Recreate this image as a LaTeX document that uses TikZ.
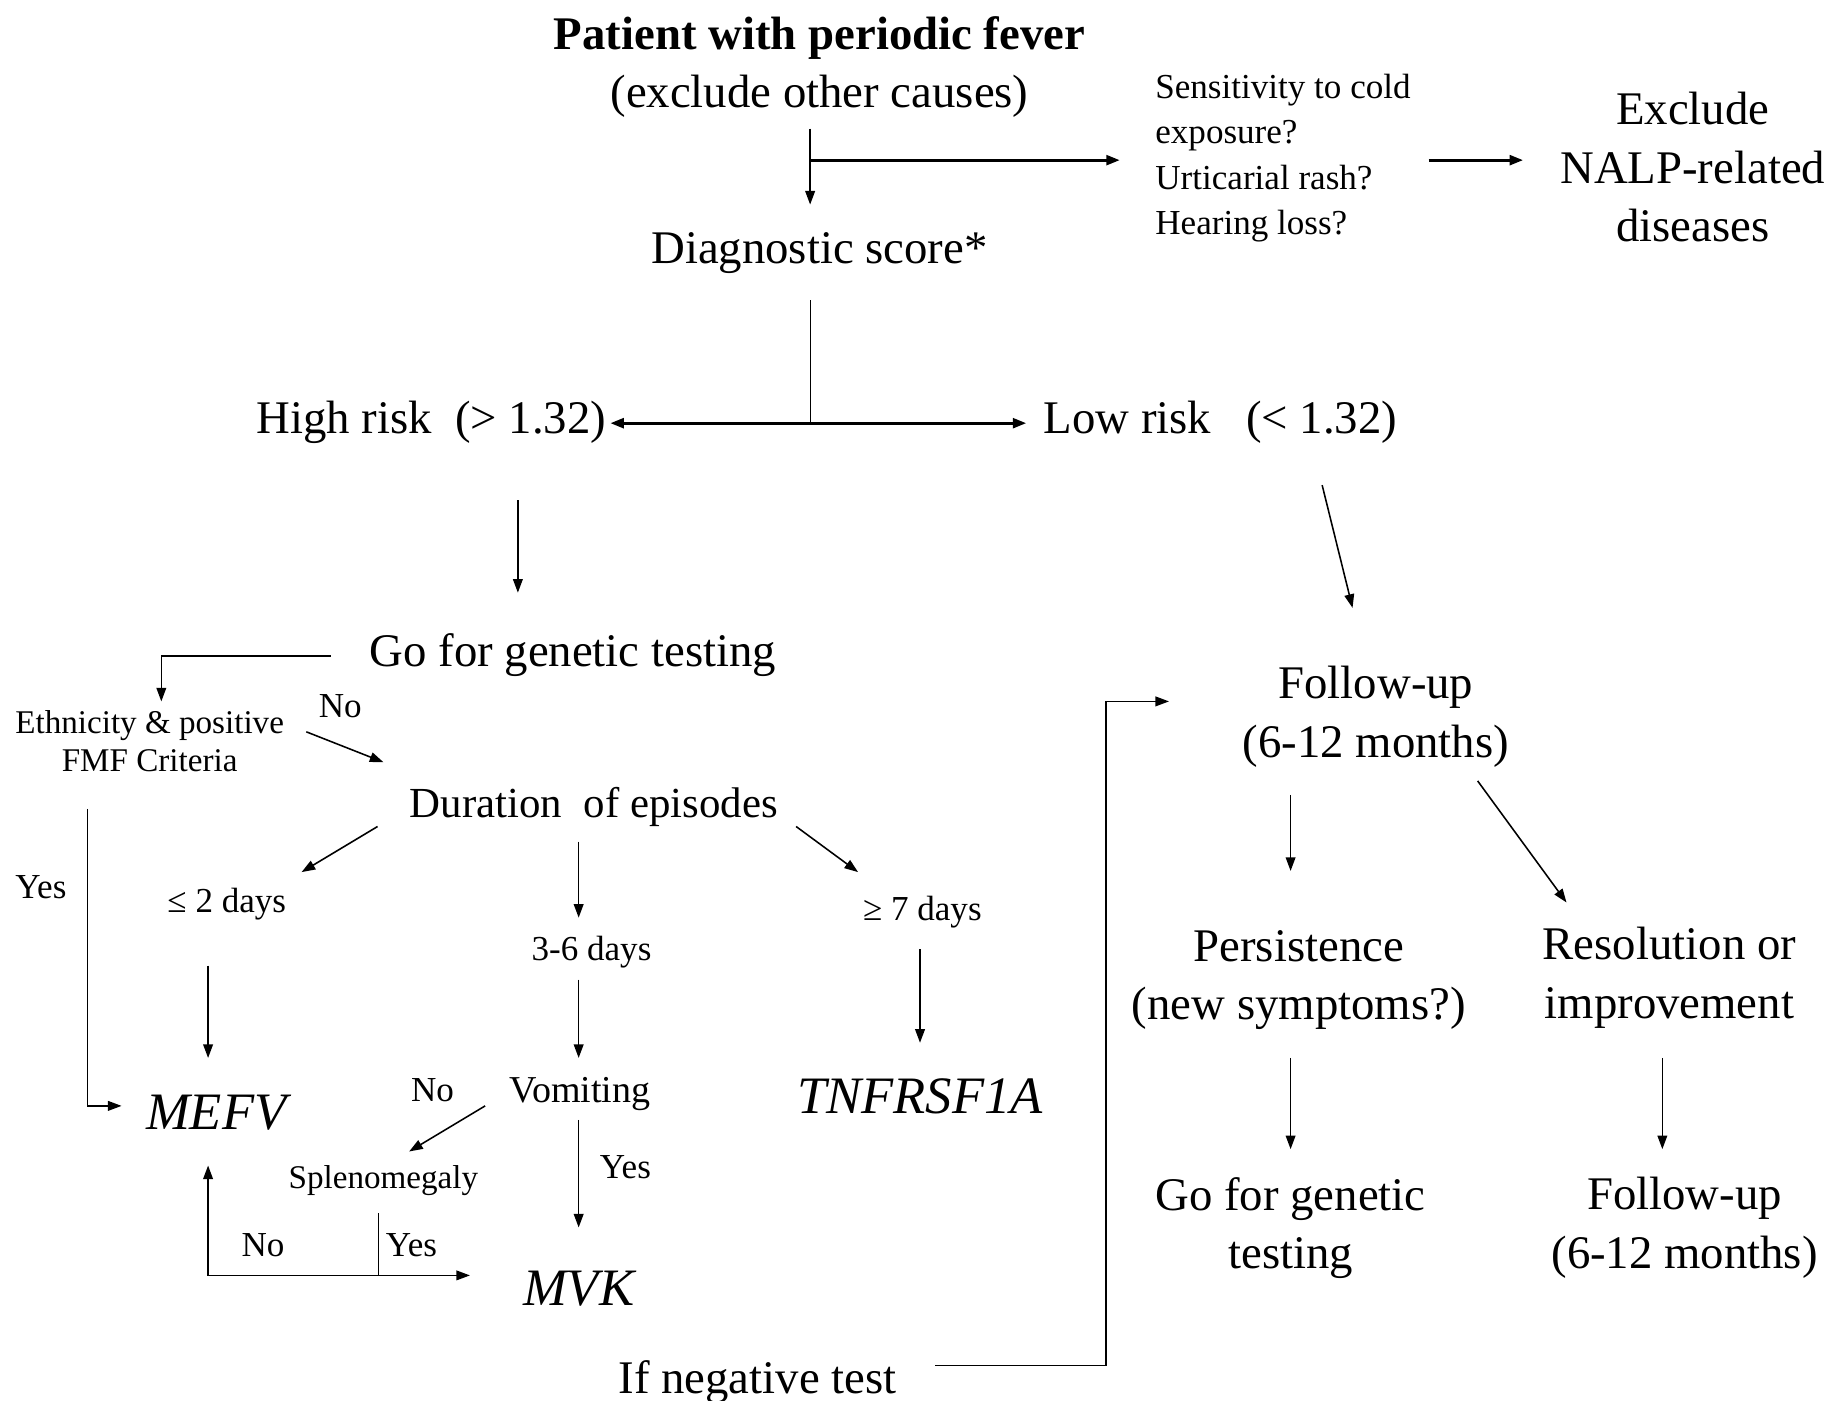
\documentclass[tikz,border=0pt]{standalone}
\usepackage{fontspec}
\setmainfont{Liberation Serif}
\usetikzlibrary{arrows.meta}

\tikzset{
  big/.style={inner sep=0pt, align=center, text depth=0pt, font=\fontsize{24}{30}\selectfont},
  sml/.style={inner sep=0pt, align=center, text depth=0pt, font=\fontsize{18}{23.2}\selectfont},
  tiny/.style={inner sep=0pt, align=center, font=\fontsize{17}{19.2}\selectfont},
  gene/.style={inner sep=0pt, font=\fontsize{27}{30}\selectfont\itshape},
  arr/.style={-{Triangle[length=7pt,width=5pt]}, line width=0.8pt},
  fat/.style={line width=1.6pt},
}

\begin{document}
\begin{tikzpicture}[x=0.6pt, y=-0.6pt]
\useasboundingbox (0,0) rectangle (1568,1198);

% top part
\node[big] (pat) at (701,53) {\textbf{Patient with periodic fever}\\(exclude other causes)};
\node[big] (diag) at (701,212) {Diagnostic score*};
\node[sml, align=left, anchor=west] (sens) at (988,132) {Sensitivity to cold\\exposure?\\Urticarial rash?\\Hearing loss?};
\node[big] (excl) at (1448,143) {Exclude\\NALP-related\\diseases};
\node[big] (hi) at (369,357) {High risk~~(> 1.32)};
\node[big] (lo) at (1044,357) {Low risk~~~(< 1.32)};

% high risk branch
\node[big] (gen) at (490,556) {Go for genetic testing};
\node[tiny] (eth) at (128,634) {Ethnicity \& positive\\FMF Criteria};
\node[big, font=\fontsize{22}{30}\selectfont] (dur) at (508,686) {Duration~~of episodes};
\node[sml] (d2) at (194,770) {≤ 2 days};
\node[sml] (d36) at (506,811) {3-6 days};
\node[sml] (d7) at (789,777) {≥ 7 days};
\node[gene] (mefv) at (185,952) {MEFV};
\node[sml, font=\fontsize{19.5}{23.2}\selectfont] (vom) at (496,932) {Vomiting};
\node[gene] (tnf) at (787,938) {TNFRSF1A};
\node[tiny] (spl) at (328,1010) {Splenomegaly};
\node[gene] (mvk) at (495,1102) {MVK};
\node[big] (neg) at (648,1178) {If negative test};

% low risk branch
\node[big] (fu) at (1177,609) {Follow-up\\(6-12 months)};
\node[big] (per) at (1111,834) {Persistence\\(new symptoms?)};
\node[big] (res) at (1428,832) {Resolution or\\improvement};
\node[big] (gen2) at (1104,1046) {Go for genetic\\testing};
\node[big] (fu2) at (1441,1046) {Follow-up\\(6-12 months)};

% yes / no labels
\node[sml] (noA) at (291,604) {No};
\node[sml] (yesA) at (35,759) {Yes};
\node[sml] (noB) at (370,932) {No};
\node[sml] (yesB) at (535,998) {Yes};
\node[sml] (noC) at (225,1065) {No};
\node[sml] (yesC) at (352,1065) {Yes};

\coordinate (j1) at (693,137);
\coordinate (j2) at (693,362);
\coordinate (j3) at (324,1091);

\draw[arr] ([shift={(-8,57)}]pat.center) -- ([shift={(-8,-37)}]diag.center);
\draw[arr, fat] (j1) -- ([shift={(-30,5)}]sens.west);
\draw[arr, fat] ([shift={(234,5)}]sens.west) -- ([shift={(-145,-6)}]excl.center);
\draw ([shift={(-8,45)}]diag.center) -- (j2);
\draw[arr, fat] (j2) -- ([shift={(153,5)}]hi.center);
\draw[arr, fat] (j2) -- ([shift={(-166,5)}]lo.center);
\draw[arr] ([shift={(74,71)}]hi.center) -- ([shift={(-47,-49)}]gen.center);
\draw[arr] ([shift={(87,58)}]lo.center) -- ([shift={(-20,-89)}]fu.center);

\draw[arr] ([shift={(-207,5)}]gen.center) -| ([shift={(10,-34)}]eth.center);
\draw[arr] ([shift={(134,-8)}]eth.center) -- ([shift={(-180,-34)}]dur.center);
\draw[arr] ([shift={(-53,58)}]eth.center) |- ([shift={(-81,-6)}]mefv.center);
\draw[arr] ([shift={(-185,21)}]dur.center) -- ([shift={(64,-24)}]d2.center);
\draw[arr] ([shift={(-13,34)}]dur.center) -- ([shift={(-11,-26)}]d36.center);
\draw[arr] ([shift={(173,21)}]dur.center) -- ([shift={(-55,-31)}]d7.center);
\draw[arr] ([shift={(-16,56)}]d2.center) -- ([shift={(-7,-47)}]mefv.center);
\draw[arr] ([shift={(-11,27)}]d36.center) -- ([shift={(-1,-27)}]vom.center);
\draw[arr] ([shift={(-2,35)}]d7.center) -- ([shift={(0,-46)}]tnf.center);
\draw[arr] ([shift={(-81,14)}]vom.center) -- ([shift={(22,-25)}]spl.center);
\draw[arr] ([shift={(-1,26)}]vom.center) -- ([shift={(0,-52)}]mvk.center);
\draw ([shift={(-4,28)}]spl.center) -- (j3);
\draw[arr] (j3) -- ([shift={(-93,-11)}]mvk.center);
\draw[arr] (j3) -| ([shift={(-7,45)}]mefv.center);
\draw[arr] ([shift={(152,-10)}]neg.center) -- ++(146,0) |- ([shift={(-177,-9)}]fu.center);

\draw[arr] ([shift={(-73,71)}]fu.center) -- ([shift={(-7,-89)}]per.center);
\draw[arr] ([shift={(87,59)}]fu.center) -- ([shift={(-88,-60)}]res.center);
\draw[arr] ([shift={(-7,71)}]per.center) -- ([shift={(0,-63)}]gen2.center);
\draw[arr] ([shift={(-6,73)}]res.center) -- ([shift={(-19,-63)}]fu2.center);
\end{tikzpicture}
\end{document}
